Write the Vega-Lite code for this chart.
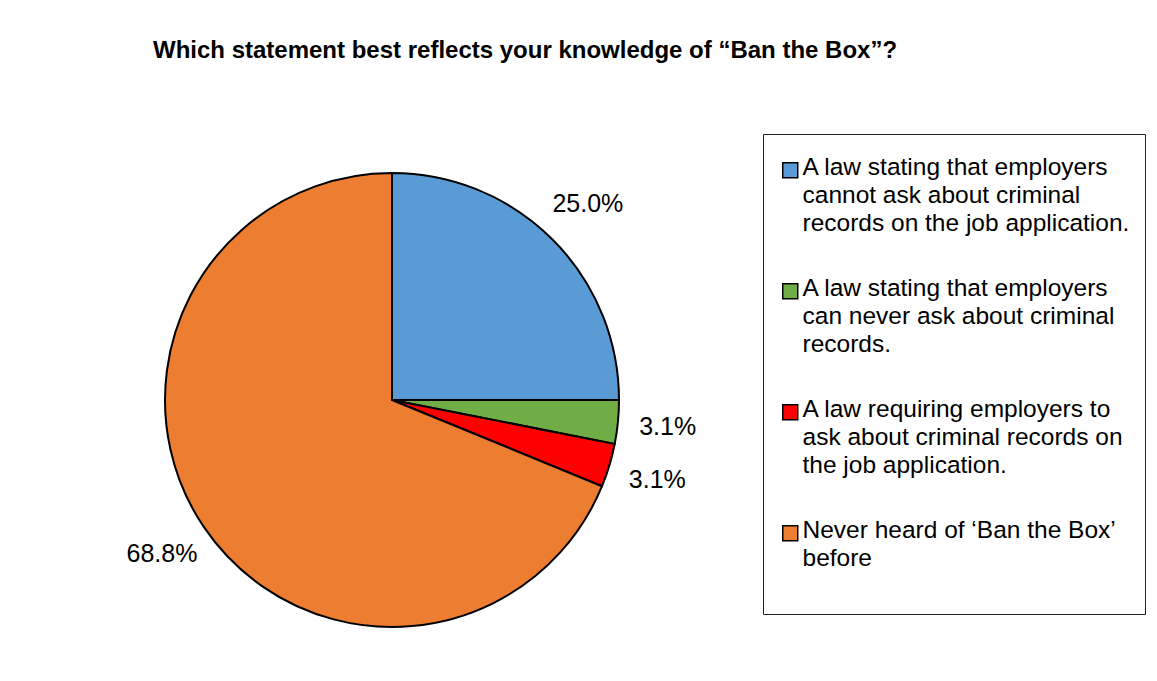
{
  "$schema": "https://vega.github.io/schema/vega-lite/v6.json",
  "autosize": "none",
  "width": 766,
  "height": 562,
  "padding": {"left": 9, "top": 119, "right": 382, "bottom": 0},
  "background": "white",
  "title": {
    "text": "Which statement best reflects your knowledge of “Ban the Box”?",
    "anchor": "start",
    "dx": 144,
    "offset": 56,
    "font": "Liberation Sans",
    "fontSize": 24,
    "fontWeight": "bold",
    "color": "black"
  },
  "data": {
    "values": [
      {"category": "A law stating that employers\ncannot ask about criminal\nrecords on the job application.", "share": 25.0, "order": 1, "label": "25.0%"},
      {"category": "A law stating that  employers\ncan never ask about criminal\nrecords.", "share": 3.1, "order": 2, "label": "3.1%"},
      {"category": "A law requiring employers to\nask about criminal records on\nthe job application.", "share": 3.1, "order": 3, "label": "3.1%"},
      {"category": "Never heard of ‘Ban the Box’\nbefore", "share": 68.8, "order": 4, "label": "68.8%"}
    ]
  },
  "encoding": {
    "theta": {"field": "share", "type": "quantitative", "stack": true},
    "order": {"field": "order", "type": "quantitative"}
  },
  "layer": [
    {
      "mark": {"type": "arc", "outerRadius": 227, "stroke": "black", "strokeWidth": 2},
      "encoding": {
        "color": {
          "field": "category",
          "type": "nominal",
          "scale": {
            "domain": [
              "A law stating that employers\ncannot ask about criminal\nrecords on the job application.",
              "A law stating that  employers\ncan never ask about criminal\nrecords.",
              "A law requiring employers to\nask about criminal records on\nthe job application.",
              "Never heard of ‘Ban the Box’\nbefore"
            ],
            "range": ["#5B9BD5", "#70AD47", "#FF0000", "#ED7D31"]
          },
          "legend": {
            "orient": "none",
            "legendX": 754,
            "legendY": 15,
            "title": " ",
            "titleFontSize": 4,
            "titlePadding": 5,
            "strokeColor": "#222222",
            "fillColor": "white",
            "padding": 15,
            "symbolType": "square",
            "symbolSize": 225,
            "symbolStrokeColor": "black",
            "symbolStrokeWidth": 1.5,
            "symbolOpacity": 1,
            "labelFont": "Liberation Sans",
            "labelFontSize": 24.5,
            "labelColor": "black",
            "labelLimit": 400,
            "labelOffset": 0,
            "rowPadding": 40,
            "labelBaseline": "top",
            "labelExpr": "split(datum.label + (indexof(datum.label, 'Never') == 0 ? '\\n ' : ''), '\\n')",
            "encode": {"labels": {"update": {"lineHeight": {"value": 28}, "dy": {"value": -14}}}}
          }
        }
      }
    },
    {
      "mark": {"type": "text", "radius": 277, "font": "Liberation Sans", "fontSize": 25, "color": "black"},
      "encoding": {"text": {"field": "label", "type": "nominal"}}
    }
  ],
  "config": {"view": {"stroke": null}}
}
